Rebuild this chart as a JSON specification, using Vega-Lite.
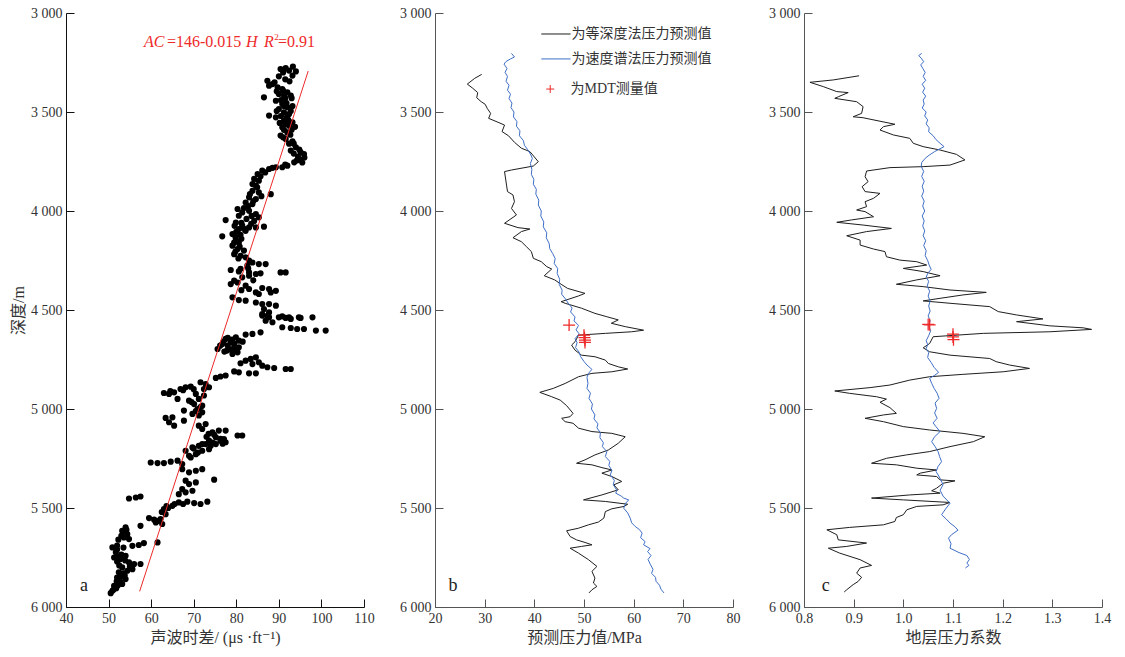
{
"$schema":"https://vega.github.io/schema/vega-lite/v6.json",
"background":"white",
"padding":{"left":10,"top":6,"right":5,"bottom":5},
"spacing":71,
"bounds":"flush",
"config":{"view":{"stroke":null},"axis":{"grid":false,"labelFont":"Liberation Serif, DejaVu Serif, serif, Noto Sans CJK SC","labelFontSize":14,"labelColor":"#333","titleFont":"Liberation Serif, DejaVu Serif, Noto Sans CJK SC","titleFontSize":16,"titleFontWeight":"normal","titleColor":"#333","tickSize":-8,"labelPadding":12,"labelFlush":false,"labelOverlap":false,"domainColor":"#222","tickColor":"#222"}},
"datasets":{
"ac":[{"v":90.4,"d":3283},{"v":91.6,"d":3278},{"v":93.3,"d":3271},{"v":94.0,"d":3295},{"v":93.2,"d":3316},{"v":92.4,"d":3291},{"v":87.3,"d":3342},{"v":88.5,"d":3359},{"v":89.7,"d":3375},{"v":87.7,"d":3367},{"v":90.8,"d":3384},{"v":92.0,"d":3401},{"v":91.2,"d":3417},{"v":92.8,"d":3417},{"v":90.0,"d":3409},{"v":86.5,"d":3426},{"v":89.3,"d":3443},{"v":90.8,"d":3460},{"v":92.0,"d":3476},{"v":90.0,"d":3485},{"v":91.2,"d":3502},{"v":92.4,"d":3510},{"v":87.7,"d":3518},{"v":89.3,"d":3527},{"v":91.2,"d":3544},{"v":93.2,"d":3552},{"v":92.4,"d":3569},{"v":90.8,"d":3577},{"v":92.0,"d":3603},{"v":90.4,"d":3619},{"v":91.6,"d":3636},{"v":93.2,"d":3648},{"v":94.0,"d":3678},{"v":92.8,"d":3695},{"v":95.1,"d":3703},{"v":95.9,"d":3712},{"v":95.1,"d":3742},{"v":93.6,"d":3754},{"v":92.0,"d":3771},{"v":90.8,"d":3779},{"v":89.3,"d":3779},{"v":87.7,"d":3788},{"v":86.1,"d":3796},{"v":85.0,"d":3813},{"v":84.2,"d":3838},{"v":85.3,"d":3847},{"v":83.8,"d":3864},{"v":84.6,"d":3872},{"v":91.0,"d":3300},{"v":89.0,"d":3350},{"v":91.5,"d":3430},{"v":93.5,"d":3660},{"v":94.5,"d":3725},{"v":93.0,"d":3590},
{"v":90.0,"d":3320},{"v":91.5,"d":3335},{"v":92.5,"d":3345},{"v":89.5,"d":3395},{"v":91.0,"d":3392},{"v":93.0,"d":3430},{"v":90.5,"d":3440},{"v":91.8,"d":3455},{"v":93.2,"d":3470},{"v":91.2,"d":3470},{"v":89.5,"d":3495},{"v":92.8,"d":3495},{"v":90.5,"d":3520},{"v":91.8,"d":3530},{"v":92.2,"d":3540},{"v":90.2,"d":3555},{"v":91.5,"d":3560},{"v":93.8,"d":3575},{"v":91.2,"d":3590},{"v":92.7,"d":3615},{"v":91.0,"d":3628},{"v":92.4,"d":3660},{"v":94.8,"d":3690},{"v":93.5,"d":3710},{"v":96.0,"d":3730},{"v":94.2,"d":3745},{"v":95.5,"d":3755},{"v":91.5,"d":3765},{"v":88.5,"d":3782},{"v":86.8,"d":3805},{"v":85.7,"d":3825},
{"v":83.8,"d":3898},{"v":85.3,"d":3906},{"v":83.0,"d":3931},{"v":84.6,"d":3940},{"v":83.8,"d":3965},{"v":82.2,"d":3957},{"v":88.1,"d":3915},{"v":80.3,"d":3990},{"v":81.4,"d":4007},{"v":83.0,"d":3999},{"v":84.6,"d":4016},{"v":85.3,"d":4032},{"v":80.6,"d":4024},{"v":77.5,"d":4046},{"v":79.9,"d":4058},{"v":81.4,"d":4074},{"v":83.0,"d":4083},{"v":84.6,"d":4083},{"v":86.5,"d":4079},{"v":82.2,"d":4100},{"v":80.6,"d":4091},{"v":76.7,"d":4128},{"v":79.1,"d":4116},{"v":79.9,"d":4142},{"v":80.6,"d":4159},{"v":79.1,"d":4175},{"v":80.3,"d":4192},{"v":79.5,"d":4218},{"v":81.0,"d":4226},{"v":82.2,"d":4234},{"v":83.0,"d":4251},{"v":83.8,"d":4260},{"v":85.3,"d":4268},{"v":86.9,"d":4268},{"v":82.6,"d":4276},{"v":78.7,"d":4298},{"v":80.6,"d":4305},{"v":83.0,"d":4310},{"v":84.6,"d":4318},{"v":85.7,"d":4315},{"v":81.4,"d":4335},{"v":83.0,"d":4327},{"v":79.5,"d":4352},{"v":90.4,"d":4310},{"v":91.6,"d":4310},{"v":78.7,"d":4369},{"v":80.3,"d":4361},{"v":82.2,"d":4377},{"v":83.0,"d":4394},{"v":84.6,"d":4411},{"v":86.1,"d":4389},{"v":87.7,"d":4394},{"v":89.3,"d":4403},{"v":88.1,"d":4411},{"v":85.3,"d":4419},{"v":79.1,"d":4436},{"v":80.6,"d":4450},{"v":82.2,"d":4453},{"v":84.6,"d":4462},{"v":86.1,"d":4470},{"v":87.7,"d":4470},{"v":89.3,"d":4478},{"v":86.5,"d":4495},{"v":87.7,"d":4512},{"v":86.1,"d":4520},{"v":87.3,"d":4529},{"v":90.8,"d":4532},{"v":92.4,"d":4537},{"v":94.7,"d":4537},{"v":97.9,"d":4537},
{"v":84.9,"d":3880},{"v":83.2,"d":3915},{"v":85.9,"d":3925},{"v":84.0,"d":3950},{"v":82.8,"d":3975},{"v":81.8,"d":3985},{"v":83.6,"d":4025},{"v":82.4,"d":4040},{"v":84.2,"d":4050},{"v":81.2,"d":4060},{"v":83.5,"d":4065},{"v":79.6,"d":4075},{"v":81.8,"d":4090},{"v":80.0,"d":4105},{"v":81.0,"d":4120},{"v":79.8,"d":4130},{"v":81.2,"d":4140},{"v":79.5,"d":4160},{"v":80.8,"d":4180},{"v":81.8,"d":4200},{"v":79.8,"d":4205},{"v":80.5,"d":4240},{"v":82.8,"d":4290},{"v":81.0,"d":4292},{"v":84.0,"d":4350},{"v":81.2,"d":4400},
{"v":86.1,"d":4528},{"v":87.7,"d":4537},{"v":86.9,"d":4554},{"v":88.5,"d":4562},{"v":90.0,"d":4537},{"v":91.6,"d":4540},{"v":92.8,"d":4545},{"v":95.1,"d":4540},{"v":90.8,"d":4587},{"v":92.8,"d":4591},{"v":94.3,"d":4596},{"v":95.9,"d":4596},{"v":98.7,"d":4604},{"v":101.0,"d":4604},{"v":82.2,"d":4624},{"v":83.8,"d":4621},{"v":85.7,"d":4613},{"v":76.7,"d":4672},{"v":77.5,"d":4646},{"v":78.7,"d":4663},{"v":79.9,"d":4638},{"v":80.6,"d":4655},{"v":79.5,"d":4688},{"v":78.3,"d":4697},{"v":80.6,"d":4688},{"v":75.6,"d":4697},{"v":79.1,"d":4722},{"v":80.3,"d":4714},{"v":77.0,"d":4660},{"v":78.0,"d":4680},{"v":79.0,"d":4650},{"v":80.0,"d":4700},{"v":77.8,"d":4705},{"v":76.2,"d":4680},{"v":78.0,"d":4640},{"v":79.5,"d":4670},{"v":81.5,"d":4660},{"v":77.2,"d":4710},{"v":79.0,"d":4705},{"v":81.0,"d":4769},{"v":82.2,"d":4756},{"v":83.4,"d":4747},{"v":84.6,"d":4739},{"v":85.3,"d":4764},{"v":83.8,"d":4773},{"v":86.1,"d":4781},{"v":87.3,"d":4789},{"v":88.9,"d":4793},{"v":91.6,"d":4798},{"v":92.8,"d":4798},{"v":79.5,"d":4810},{"v":80.6,"d":4815},{"v":83.0,"d":4820},{"v":84.6,"d":4820},{"v":75.2,"d":4843},{"v":76.3,"d":4836},{"v":77.5,"d":4831},{"v":71.6,"d":4865},{"v":72.8,"d":4874},{"v":73.6,"d":4890},{"v":72.4,"d":4899},{"v":63.0,"d":4919},{"v":64.2,"d":4924},{"v":65.4,"d":4916},{"v":66.9,"d":4899},{"v":68.1,"d":4890},{"v":69.3,"d":4887},{"v":70.5,"d":4924},{"v":66.2,"d":4949},{"v":68.9,"d":4958},{"v":70.1,"d":4975},{"v":71.2,"d":4949},{"v":72.4,"d":4932},{"v":72.0,"d":4983},{"v":70.9,"d":5000},{"v":72.0,"d":5017},{"v":71.2,"d":5033},{"v":69.7,"d":5025},{"v":67.7,"d":5008},{"v":63.4,"d":5045},{"v":65.0,"d":5042},{"v":64.2,"d":5067},{"v":65.4,"d":5084},{"v":67.7,"d":5059},{"v":71.2,"d":5084},{"v":72.8,"d":5076},{"v":72.0,"d":5101},{"v":74.4,"d":5118},{"v":75.9,"d":5109},{"v":77.5,"d":5109},{"v":75.2,"d":5143},{"v":76.3,"d":5151},{"v":73.6,"d":5160},{"v":72.0,"d":5177},{"v":75.2,"d":5177},{"v":77.5,"d":5168},{"v":80.3,"d":5134},{"v":81.4,"d":5134},
{"v":64.5,"d":4910},{"v":67.5,"d":4905},{"v":70.0,"d":4900},{"v":69.5,"d":4965},{"v":71.6,"d":4990},{"v":70.5,"d":5010},{"v":73.5,"d":5125},{"v":74.8,"d":5130},{"v":73.0,"d":5140},{"v":74.0,"d":5185},{"v":76.8,"d":5175},{"v":70.0,"d":5200},{"v":71.0,"d":5220},{"v":69.3,"d":5245},
{"v":68.1,"d":5211},{"v":69.7,"d":5194},{"v":71.2,"d":5186},{"v":72.8,"d":5177},{"v":74.4,"d":5169},{"v":76.3,"d":5160},{"v":77.1,"d":5152},{"v":68.9,"d":5236},{"v":70.5,"d":5228},{"v":72.0,"d":5211},{"v":73.6,"d":5203},{"v":59.9,"d":5270},{"v":61.5,"d":5273},{"v":63.0,"d":5273},{"v":64.6,"d":5266},{"v":66.2,"d":5261},{"v":67.3,"d":5278},{"v":67.3,"d":5304},{"v":68.9,"d":5320},{"v":70.5,"d":5312},{"v":72.0,"d":5304},{"v":74.8,"d":5357},{"v":68.1,"d":5362},{"v":68.9,"d":5379},{"v":70.5,"d":5371},{"v":67.3,"d":5405},{"v":68.1,"d":5421},{"v":66.5,"d":5430},{"v":69.7,"d":5413},{"v":54.8,"d":5452},{"v":56.4,"d":5447},{"v":57.5,"d":5442},{"v":65.0,"d":5489},{"v":66.5,"d":5472},{"v":68.5,"d":5468},{"v":70.1,"d":5475},{"v":71.6,"d":5480},{"v":73.2,"d":5468},{"v":63.0,"d":5506},{"v":63.4,"d":5531},{"v":62.2,"d":5556},{"v":61.1,"d":5573},{"v":62.6,"d":5581},{"v":59.5,"d":5551},{"v":60.7,"d":5559},{"v":57.5,"d":5590},{"v":54.0,"d":5598},{"v":53.2,"d":5615},{"v":54.4,"d":5632},{"v":53.6,"d":5649},{"v":54.8,"d":5657},{"v":55.6,"d":5691},{"v":57.1,"d":5687},{"v":58.3,"d":5677},{"v":61.5,"d":5674},{"v":50.9,"d":5699},{"v":51.7,"d":5724},{"v":51.3,"d":5750},{"v":52.8,"d":5758},{"v":54.0,"d":5741},{"v":54.8,"d":5775},{"v":56.0,"d":5783},{"v":57.5,"d":5783},{"v":53.2,"d":5800},{"v":52.4,"d":5825},{"v":54.4,"d":5817},{"v":55.6,"d":5809},{"v":52.0,"d":5851},{"v":54.0,"d":5859},{"v":52.8,"d":5876},{"v":51.3,"d":5893},{"v":53.2,"d":5884},{"v":50.9,"d":5918},{"v":50.5,"d":5930},{"v":52.0,"d":5710},{"v":53.0,"d":5735},{"v":52.5,"d":5790},{"v":53.8,"d":5840},{"v":51.8,"d":5905},{"v":53.5,"d":5620},{"v":52.0,"d":5690},
{"v":62.5,"d":5520},{"v":63.6,"d":5490},{"v":67.5,"d":5480},{"v":65.5,"d":5480},{"v":61.8,"d":5565},{"v":64.0,"d":5500},{"v":53.0,"d":5640},{"v":54.2,"d":5610},{"v":52.3,"d":5660},{"v":51.8,"d":5705},{"v":53.5,"d":5700},{"v":52.4,"d":5745},{"v":53.9,"d":5765},{"v":52.0,"d":5770},{"v":55.0,"d":5795},{"v":53.5,"d":5830},{"v":52.8,"d":5850},{"v":51.9,"d":5870},{"v":52.2,"d":5890},{"v":51.2,"d":5912}],
"pb":[{"m":"等深度法","v":29.4,"d":3310},{"m":"等深度法","v":28.0,"d":3330},{"m":"等深度法","v":26.5,"d":3359},{"m":"等深度法","v":27.6,"d":3380},{"m":"等深度法","v":28.6,"d":3402},{"m":"等深度法","v":28.4,"d":3428},{"m":"等深度法","v":29.3,"d":3448},{"m":"等深度法","v":30.1,"d":3461},{"m":"等深度法","v":30.5,"d":3481},{"m":"等深度法","v":31.2,"d":3507},{"m":"等深度法","v":30.8,"d":3532},{"m":"等深度法","v":32.7,"d":3552},{"m":"等深度法","v":34.0,"d":3566},{"m":"等深度法","v":33.5,"d":3599},{"m":"等深度法","v":34.8,"d":3620},{"m":"等深度法","v":36.0,"d":3653},{"m":"等深度法","v":37.4,"d":3683},{"m":"等深度法","v":39.1,"d":3700},{"m":"等深度法","v":40.8,"d":3751},{"m":"等深度法","v":39.8,"d":3773},{"m":"等深度法","v":35.4,"d":3793},{"m":"等深度法","v":34.0,"d":3801},{"m":"等深度法","v":34.4,"d":3869},{"m":"等深度法","v":34.6,"d":3902},{"m":"等深度法","v":35.7,"d":3919},{"m":"等深度法","v":36.0,"d":3953},{"m":"等深度法","v":35.4,"d":3987},{"m":"等深度法","v":36.4,"d":4020},{"m":"等深度法","v":34.0,"d":4062},{"m":"等深度法","v":36.7,"d":4084},{"m":"等深度法","v":39.1,"d":4091},{"m":"等深度法","v":37.4,"d":4104},{"m":"等深度法","v":35.7,"d":4135},{"m":"等深度法","v":37.4,"d":4155},{"m":"等深度法","v":38.4,"d":4180},{"m":"等深度法","v":39.4,"d":4205},{"m":"等深度法","v":39.8,"d":4239},{"m":"等深度法","v":41.4,"d":4256},{"m":"等深度法","v":42.5,"d":4281},{"m":"等深度法","v":43.5,"d":4293},{"m":"等深度法","v":42.0,"d":4327},{"m":"等深度法","v":44.1,"d":4348},{"m":"等深度法","v":45.4,"d":4370},{"m":"等深度法","v":46.7,"d":4391},{"m":"等深度法","v":50.2,"d":4416},{"m":"等深度法","v":48.9,"d":4429},{"m":"等深度法","v":45.4,"d":4458},{"m":"等深度法","v":46.2,"d":4466},{"m":"等深度法","v":49.5,"d":4491},{"m":"等深度法","v":52.2,"d":4517},{"m":"等深度法","v":54.6,"d":4534},{"m":"等深度法","v":56.9,"d":4550},{"m":"等深度法","v":55.5,"d":4567},{"m":"等深度法","v":58.3,"d":4584},{"m":"等深度法","v":62.0,"d":4602},{"m":"等深度法","v":59.6,"d":4610},{"m":"等深度法","v":54.3,"d":4618},{"m":"等深度法","v":48.9,"d":4627},{"m":"等深度法","v":48.2,"d":4660},{"m":"等深度法","v":47.5,"d":4677},{"m":"等深度法","v":48.2,"d":4703},{"m":"等深度法","v":49.5,"d":4728},{"m":"等深度法","v":52.2,"d":4736},{"m":"等深度法","v":54.3,"d":4753},{"m":"等深度法","v":54.9,"d":4770},{"m":"等深度法","v":56.9,"d":4787},{"m":"等深度法","v":58.8,"d":4798},{"m":"等深度法","v":55.6,"d":4812},{"m":"等深度法","v":51.6,"d":4820},{"m":"等深度法","v":48.9,"d":4837},{"m":"等深度法","v":46.2,"d":4871},{"m":"等深度法","v":43.8,"d":4896},{"m":"等深度法","v":41.1,"d":4916},{"m":"等深度法","v":43.5,"d":4938},{"m":"等深度法","v":45.2,"d":4955},{"m":"等深度法","v":46.5,"d":4983},{"m":"等深度法","v":47.8,"d":5022},{"m":"等深度法","v":47.2,"d":5039},{"m":"等深度法","v":45.5,"d":5047},{"m":"等深度法","v":46.2,"d":5064},{"m":"等深度法","v":47.8,"d":5072},{"m":"等深度法","v":48.9,"d":5097},{"m":"等深度法","v":51.6,"d":5114},{"m":"等深度法","v":55.6,"d":5123},{"m":"等深度法","v":58.3,"d":5140},{"m":"等深度法","v":56.9,"d":5173},{"m":"等深度法","v":54.9,"d":5207},{"m":"等深度法","v":52.2,"d":5232},{"m":"等深度法","v":50.2,"d":5257},{"m":"等深度法","v":48.5,"d":5274},{"m":"等深度法","v":51.6,"d":5282},{"m":"等深度法","v":53.6,"d":5296},{"m":"等深度法","v":55.6,"d":5308},{"m":"等深度法","v":53.6,"d":5324},{"m":"等深度法","v":55.6,"d":5341},{"m":"等深度法","v":57.6,"d":5366},{"m":"等深度法","v":56.0,"d":5383},{"m":"等深度法","v":56.9,"d":5408},{"m":"等深度法","v":53.6,"d":5434},{"m":"等深度法","v":49.9,"d":5459},{"m":"等深度法","v":54.3,"d":5467},{"m":"等深度法","v":58.8,"d":5481},{"m":"等深度法","v":58.1,"d":5492},{"m":"等深度法","v":55.6,"d":5504},{"m":"等深度法","v":54.3,"d":5518},{"m":"等深度法","v":54.0,"d":5551},{"m":"等深度法","v":52.9,"d":5571},{"m":"等深度法","v":50.9,"d":5585},{"m":"等深度法","v":48.9,"d":5602},{"m":"等深度法","v":46.5,"d":5615},{"m":"等深度法","v":47.2,"d":5644},{"m":"等深度法","v":48.5,"d":5661},{"m":"等深度法","v":50.2,"d":5674},{"m":"等深度法","v":51.6,"d":5686},{"m":"等深度法","v":49.5,"d":5694},{"m":"等深度法","v":47.2,"d":5703},{"m":"等深度法","v":48.9,"d":5728},{"m":"等深度法","v":50.9,"d":5761},{"m":"等深度法","v":52.6,"d":5795},{"m":"等深度法","v":51.6,"d":5820},{"m":"等深度法","v":52.2,"d":5854},{"m":"等深度法","v":51.9,"d":5879},{"m":"等深度法","v":52.6,"d":5896},{"m":"等深度法","v":51.6,"d":5913},{"m":"等深度法","v":51.0,"d":5929},
{"m":"速度谱法","v":35.4,"d":3204},{"m":"速度谱法","v":36.0,"d":3222},{"m":"速度谱法","v":35.2,"d":3232},{"m":"速度谱法","v":34.3,"d":3245},{"m":"速度谱法","v":33.9,"d":3258},{"m":"速度谱法","v":34.5,"d":3280},{"m":"速度谱法","v":34.1,"d":3300},{"m":"速度谱法","v":34.6,"d":3320},{"m":"速度谱法","v":34.3,"d":3345},{"m":"速度谱法","v":34.9,"d":3365},{"m":"速度谱法","v":34.6,"d":3390},{"m":"速度谱法","v":35.2,"d":3410},{"m":"速度谱法","v":34.9,"d":3432},{"m":"速度谱法","v":35.5,"d":3455},{"m":"速度谱法","v":35.3,"d":3478},{"m":"速度谱法","v":35.9,"d":3500},{"m":"速度谱法","v":35.8,"d":3525},{"m":"速度谱法","v":36.5,"d":3548},{"m":"速度谱法","v":36.4,"d":3572},{"m":"速度谱法","v":37.1,"d":3595},{"m":"速度谱法","v":37.0,"d":3620},{"m":"速度谱法","v":37.8,"d":3645},{"m":"速度谱法","v":38.0,"d":3668},{"m":"速度谱法","v":38.6,"d":3688},{"m":"速度谱法","v":39.2,"d":3712},{"m":"速度谱法","v":39.6,"d":3734},{"m":"速度谱法","v":39.2,"d":3760},{"m":"速度谱法","v":39.5,"d":3790},{"m":"速度谱法","v":39.4,"d":3815},{"m":"速度谱法","v":39.9,"d":3840},{"m":"速度谱法","v":39.8,"d":3865},{"m":"速度谱法","v":40.4,"d":3890},{"m":"速度谱法","v":40.3,"d":3915},{"m":"速度谱法","v":40.9,"d":3945},{"m":"速度谱法","v":40.8,"d":3970},{"m":"速度谱法","v":41.4,"d":4000},{"m":"速度谱法","v":41.3,"d":4025},{"m":"速度谱法","v":41.9,"d":4055},{"m":"速度谱法","v":41.8,"d":4080},{"m":"速度谱法","v":42.5,"d":4110},{"m":"速度谱法","v":42.4,"d":4135},{"m":"速度谱法","v":43.0,"d":4165},{"m":"速度谱法","v":43.1,"d":4190},{"m":"速度谱法","v":43.7,"d":4215},{"m":"速度谱法","v":44.2,"d":4240},{"m":"速度谱法","v":44.0,"d":4265},{"m":"速度谱法","v":44.7,"d":4290},{"m":"速度谱法","v":44.6,"d":4315},{"m":"速度谱法","v":45.1,"d":4345},{"m":"速度谱法","v":45.0,"d":4370},{"m":"速度谱法","v":45.6,"d":4400},{"m":"速度谱法","v":45.5,"d":4420},{"m":"速度谱法","v":46.3,"d":4445},{"m":"速度谱法","v":46.8,"d":4465},{"m":"速度谱法","v":47.6,"d":4490},{"m":"速度谱法","v":47.3,"d":4510},{"m":"速度谱法","v":48.2,"d":4535},{"m":"速度谱法","v":48.0,"d":4555},{"m":"速度谱法","v":48.9,"d":4578},{"m":"速度谱法","v":48.4,"d":4600},{"m":"速度谱法","v":49.0,"d":4620},{"m":"速度谱法","v":48.2,"d":4645},{"m":"速度谱法","v":48.6,"d":4665},{"m":"速度谱法","v":48.3,"d":4690},{"m":"速度谱法","v":49.0,"d":4712},{"m":"速度谱法","v":49.3,"d":4735},{"m":"速度谱法","v":50.0,"d":4760},{"m":"速度谱法","v":50.6,"d":4778},{"m":"速度谱法","v":51.6,"d":4800},{"m":"速度谱法","v":50.9,"d":4820},{"m":"速度谱法","v":50.6,"d":4840},{"m":"速度谱法","v":50.8,"d":4870},{"m":"速度谱法","v":50.6,"d":4896},{"m":"速度谱法","v":51.3,"d":4920},{"m":"速度谱法","v":51.0,"d":4946},{"m":"速度谱法","v":51.7,"d":4975},{"m":"速度谱法","v":51.5,"d":5000},{"m":"速度谱法","v":52.2,"d":5030},{"m":"速度谱法","v":52.0,"d":5050},{"m":"速度谱法","v":52.8,"d":5075},{"m":"速度谱法","v":52.6,"d":5095},{"m":"速度谱法","v":53.3,"d":5120},{"m":"速度谱法","v":53.2,"d":5145},{"m":"速度谱法","v":53.9,"d":5170},{"m":"速度谱法","v":53.7,"d":5190},{"m":"速度谱法","v":54.6,"d":5215},{"m":"速度谱法","v":54.3,"d":5240},{"m":"速度谱法","v":55.2,"d":5265},{"m":"速度谱法","v":55.0,"d":5285},{"m":"速度谱法","v":55.6,"d":5310},{"m":"速度谱法","v":55.3,"d":5333},{"m":"速度谱法","v":56.1,"d":5360},{"m":"速度谱法","v":55.9,"d":5383},{"m":"速度谱法","v":56.6,"d":5410},{"m":"速度谱法","v":56.4,"d":5425},{"m":"速度谱法","v":57.5,"d":5440},{"m":"速度谱法","v":58.0,"d":5450},{"m":"速度谱法","v":59.0,"d":5459},{"m":"速度谱法","v":58.4,"d":5475},{"m":"速度谱法","v":58.0,"d":5501},{"m":"速度谱法","v":58.8,"d":5525},{"m":"速度谱法","v":59.3,"d":5551},{"m":"速度谱法","v":59.6,"d":5575},{"m":"速度谱法","v":60.3,"d":5593},{"m":"速度谱法","v":61.2,"d":5610},{"m":"速度谱法","v":61.7,"d":5627},{"m":"速度谱法","v":61.4,"d":5650},{"m":"速度谱法","v":62.3,"d":5670},{"m":"速度谱法","v":62.0,"d":5686},{"m":"速度谱法","v":63.3,"d":5705},{"m":"速度谱法","v":62.8,"d":5720},{"m":"速度谱法","v":63.5,"d":5740},{"m":"速度谱法","v":62.9,"d":5760},{"m":"速度谱法","v":63.4,"d":5787},{"m":"速度谱法","v":63.9,"d":5810},{"m":"速度谱法","v":63.6,"d":5830},{"m":"速度谱法","v":64.4,"d":5850},{"m":"速度谱法","v":64.5,"d":5870},{"m":"速度谱法","v":65.2,"d":5890},{"m":"速度谱法","v":65.5,"d":5910},{"m":"速度谱法","v":66.1,"d":5929}],
"pc":[{"m":"等深度法","v":0.911,"d":3317},{"m":"等深度法","v":0.859,"d":3338},{"m":"等深度法","v":0.812,"d":3350},{"m":"等深度法","v":0.839,"d":3372},{"m":"等深度法","v":0.866,"d":3397},{"m":"等深度法","v":0.889,"d":3402},{"m":"等深度法","v":0.869,"d":3423},{"m":"等深度法","v":0.862,"d":3431},{"m":"等深度法","v":0.906,"d":3448},{"m":"等深度法","v":0.919,"d":3473},{"m":"等深度法","v":0.916,"d":3507},{"m":"等深度法","v":0.899,"d":3524},{"m":"等深度法","v":0.919,"d":3529},{"m":"等深度法","v":0.983,"d":3562},{"m":"等深度法","v":0.960,"d":3574},{"m":"等深度法","v":0.953,"d":3591},{"m":"等深度法","v":0.980,"d":3616},{"m":"等深度法","v":1.013,"d":3633},{"m":"等深度法","v":1.020,"d":3658},{"m":"等深度法","v":1.040,"d":3675},{"m":"等深度法","v":1.074,"d":3692},{"m":"等深度法","v":1.107,"d":3714},{"m":"等深度法","v":1.124,"d":3742},{"m":"等深度法","v":1.094,"d":3768},{"m":"等深度法","v":1.040,"d":3776},{"m":"等深度法","v":0.973,"d":3781},{"m":"等深度法","v":0.926,"d":3798},{"m":"等深度法","v":0.923,"d":3827},{"m":"等深度法","v":0.929,"d":3852},{"m":"等深度法","v":0.917,"d":3877},{"m":"等深度法","v":0.923,"d":3902},{"m":"等深度法","v":0.953,"d":3911},{"m":"等深度法","v":0.940,"d":3936},{"m":"等深度法","v":0.923,"d":3953},{"m":"等深度法","v":0.926,"d":3978},{"m":"等深度法","v":0.906,"d":3995},{"m":"等深度法","v":0.923,"d":4003},{"m":"等深度法","v":0.940,"d":4029},{"m":"等深度法","v":0.896,"d":4045},{"m":"等深度法","v":0.866,"d":4057},{"m":"等深度法","v":0.919,"d":4071},{"m":"等深度法","v":0.976,"d":4088},{"m":"等深度法","v":0.926,"d":4104},{"m":"等深度法","v":0.886,"d":4125},{"m":"等深度法","v":0.913,"d":4147},{"m":"等深度法","v":0.913,"d":4172},{"m":"等深度法","v":0.940,"d":4192},{"m":"等深度法","v":0.963,"d":4205},{"m":"等深度法","v":0.966,"d":4231},{"m":"等深度法","v":0.993,"d":4248},{"m":"等深度法","v":1.027,"d":4256},{"m":"等深度法","v":1.047,"d":4273},{"m":"等深度法","v":1.000,"d":4290},{"m":"等深度法","v":1.040,"d":4306},{"m":"等深度法","v":1.074,"d":4327},{"m":"等深度法","v":1.027,"d":4348},{"m":"等深度法","v":0.986,"d":4370},{"m":"等深度法","v":1.040,"d":4382},{"m":"等深度法","v":1.094,"d":4399},{"m":"等深度法","v":1.167,"d":4411},{"m":"等深度法","v":1.120,"d":4424},{"m":"等深度法","v":1.074,"d":4441},{"m":"等深度法","v":1.040,"d":4454},{"m":"等深度法","v":1.094,"d":4466},{"m":"等深度法","v":1.174,"d":4483},{"m":"等深度法","v":1.191,"d":4508},{"m":"等深度法","v":1.228,"d":4525},{"m":"等深度法","v":1.281,"d":4545},{"m":"等深度法","v":1.228,"d":4559},{"m":"等深度法","v":1.295,"d":4580},{"m":"等深度法","v":1.362,"d":4590},{"m":"等深度法","v":1.379,"d":4598},{"m":"等深度法","v":1.295,"d":4610},{"m":"等深度法","v":1.161,"d":4618},{"m":"等深度法","v":1.060,"d":4635},{"m":"等深度法","v":1.053,"d":4669},{"m":"等深度法","v":1.040,"d":4691},{"m":"等深度法","v":1.053,"d":4711},{"m":"等深度法","v":1.094,"d":4728},{"m":"等深度法","v":1.174,"d":4745},{"m":"等深度法","v":1.187,"d":4761},{"m":"等深度法","v":1.214,"d":4778},{"m":"等深度法","v":1.254,"d":4795},{"m":"等深度法","v":1.201,"d":4812},{"m":"等深度法","v":1.120,"d":4825},{"m":"等深度法","v":1.053,"d":4837},{"m":"等深度法","v":1.013,"d":4854},{"m":"等深度法","v":0.973,"d":4879},{"m":"等深度法","v":0.933,"d":4892},{"m":"等深度法","v":0.862,"d":4909},{"m":"等深度法","v":0.892,"d":4921},{"m":"等深度法","v":0.946,"d":4938},{"m":"等深度法","v":0.966,"d":4950},{"m":"等深度法","v":0.953,"d":4966},{"m":"等深度法","v":0.973,"d":4993},{"m":"等深度法","v":0.986,"d":5022},{"m":"等深度法","v":0.960,"d":5030},{"m":"等深度法","v":0.923,"d":5047},{"m":"等深度法","v":0.960,"d":5064},{"m":"等深度法","v":1.000,"d":5089},{"m":"等深度法","v":1.053,"d":5106},{"m":"等深度法","v":1.120,"d":5123},{"m":"等深度法","v":1.164,"d":5140},{"m":"等深度法","v":1.141,"d":5165},{"m":"等深度法","v":1.094,"d":5190},{"m":"等深度法","v":1.053,"d":5215},{"m":"等深度法","v":1.006,"d":5232},{"m":"等深度法","v":0.966,"d":5249},{"m":"等深度法","v":0.936,"d":5274},{"m":"等深度法","v":0.986,"d":5282},{"m":"等深度法","v":1.027,"d":5299},{"m":"等深度法","v":1.067,"d":5308},{"m":"等深度法","v":1.034,"d":5324},{"m":"等深度法","v":1.027,"d":5333},{"m":"等深度法","v":1.067,"d":5341},{"m":"等深度法","v":1.074,"d":5358},{"m":"等深度法","v":1.104,"d":5363},{"m":"等深度法","v":1.080,"d":5375},{"m":"等深度法","v":1.067,"d":5400},{"m":"等深度法","v":1.057,"d":5413},{"m":"等深度法","v":1.074,"d":5425},{"m":"等深度法","v":1.013,"d":5434},{"m":"等深度法","v":0.936,"d":5450},{"m":"等深度法","v":1.000,"d":5459},{"m":"等深度法","v":1.094,"d":5472},{"m":"等深度法","v":1.080,"d":5484},{"m":"等深度法","v":1.027,"d":5492},{"m":"等深度法","v":1.007,"d":5509},{"m":"等深度法","v":1.000,"d":5534},{"m":"等深度法","v":0.986,"d":5548},{"m":"等深度法","v":0.983,"d":5568},{"m":"等深度法","v":0.960,"d":5585},{"m":"等深度法","v":0.892,"d":5598},{"m":"等深度法","v":0.846,"d":5610},{"m":"等深度法","v":0.866,"d":5635},{"m":"等深度法","v":0.869,"d":5661},{"m":"等深度法","v":0.926,"d":5677},{"m":"等深度法","v":0.886,"d":5694},{"m":"等深度法","v":0.849,"d":5703},{"m":"等深度法","v":0.872,"d":5728},{"m":"等深度法","v":0.913,"d":5761},{"m":"等深度法","v":0.936,"d":5790},{"m":"等深度法","v":0.913,"d":5803},{"m":"等深度法","v":0.906,"d":5829},{"m":"等深度法","v":0.916,"d":5850},{"m":"等深度法","v":0.909,"d":5871},{"m":"等深度法","v":0.899,"d":5887},{"m":"等深度法","v":0.886,"d":5913},{"m":"等深度法","v":0.881,"d":5924},
{"m":"速度谱法","v":1.037,"d":3204},{"m":"速度谱法","v":1.031,"d":3215},{"m":"速度谱法","v":1.036,"d":3228},{"m":"速度谱法","v":1.041,"d":3246},{"m":"速度谱法","v":1.035,"d":3262},{"m":"速度谱法","v":1.039,"d":3279},{"m":"速度谱法","v":1.044,"d":3300},{"m":"速度谱法","v":1.040,"d":3320},{"m":"速度谱法","v":1.045,"d":3340},{"m":"速度谱法","v":1.038,"d":3360},{"m":"速度谱法","v":1.043,"d":3380},{"m":"速度谱法","v":1.039,"d":3400},{"m":"速度谱法","v":1.045,"d":3420},{"m":"速度谱法","v":1.040,"d":3440},{"m":"速度谱法","v":1.042,"d":3460},{"m":"速度谱法","v":1.038,"d":3480},{"m":"速度谱法","v":1.046,"d":3500},{"m":"速度谱法","v":1.043,"d":3520},{"m":"速度谱法","v":1.049,"d":3540},{"m":"速度谱法","v":1.046,"d":3560},{"m":"速度谱法","v":1.052,"d":3580},{"m":"速度谱法","v":1.051,"d":3600},{"m":"速度谱法","v":1.060,"d":3620},{"m":"速度谱法","v":1.066,"d":3640},{"m":"速度谱法","v":1.074,"d":3658},{"m":"速度谱法","v":1.082,"d":3675},{"m":"速度谱法","v":1.072,"d":3688},{"m":"速度谱法","v":1.063,"d":3700},{"m":"速度谱法","v":1.052,"d":3718},{"m":"速度谱法","v":1.044,"d":3734},{"m":"速度谱法","v":1.037,"d":3755},{"m":"速度谱法","v":1.036,"d":3775},{"m":"速度谱法","v":1.041,"d":3800},{"m":"速度谱法","v":1.037,"d":3825},{"m":"速度谱法","v":1.042,"d":3850},{"m":"速度谱法","v":1.038,"d":3875},{"m":"速度谱法","v":1.041,"d":3900},{"m":"速度谱法","v":1.037,"d":3925},{"m":"速度谱法","v":1.042,"d":3950},{"m":"速度谱法","v":1.039,"d":3975},{"m":"速度谱法","v":1.043,"d":4000},{"m":"速度谱法","v":1.038,"d":4025},{"m":"速度谱法","v":1.042,"d":4050},{"m":"速度谱法","v":1.039,"d":4075},{"m":"速度谱法","v":1.043,"d":4100},{"m":"速度谱法","v":1.040,"d":4125},{"m":"速度谱法","v":1.045,"d":4150},{"m":"速度谱法","v":1.041,"d":4175},{"m":"速度谱法","v":1.046,"d":4200},{"m":"速度谱法","v":1.044,"d":4225},{"m":"速度谱法","v":1.049,"d":4250},{"m":"速度谱法","v":1.052,"d":4273},{"m":"速度谱法","v":1.056,"d":4295},{"m":"速度谱法","v":1.049,"d":4315},{"m":"速度谱法","v":1.046,"d":4335},{"m":"速度谱法","v":1.051,"d":4355},{"m":"速度谱法","v":1.048,"d":4380},{"m":"速度谱法","v":1.053,"d":4405},{"m":"速度谱法","v":1.050,"d":4430},{"m":"速度谱法","v":1.054,"d":4455},{"m":"速度谱法","v":1.051,"d":4480},{"m":"速度谱法","v":1.054,"d":4505},{"m":"速度谱法","v":1.050,"d":4530},{"m":"速度谱法","v":1.054,"d":4555},{"m":"速度谱法","v":1.051,"d":4580},{"m":"速度谱法","v":1.055,"d":4605},{"m":"速度谱法","v":1.051,"d":4630},{"m":"速度谱法","v":1.046,"d":4655},{"m":"速度谱法","v":1.049,"d":4675},{"m":"速度谱法","v":1.046,"d":4695},{"m":"速度谱法","v":1.051,"d":4715},{"m":"速度谱法","v":1.049,"d":4740},{"m":"速度谱法","v":1.056,"d":4765},{"m":"速度谱法","v":1.062,"d":4790},{"m":"速度谱法","v":1.071,"d":4815},{"m":"速度谱法","v":1.063,"d":4830},{"m":"速度谱法","v":1.053,"d":4845},{"m":"速度谱法","v":1.057,"d":4870},{"m":"速度谱法","v":1.062,"d":4896},{"m":"速度谱法","v":1.068,"d":4920},{"m":"速度谱法","v":1.072,"d":4946},{"m":"速度谱法","v":1.064,"d":4970},{"m":"速度谱法","v":1.067,"d":4997},{"m":"速度谱法","v":1.063,"d":5020},{"m":"速度谱法","v":1.068,"d":5047},{"m":"速度谱法","v":1.060,"d":5070},{"m":"速度谱法","v":1.066,"d":5090},{"m":"速度谱法","v":1.074,"d":5114},{"m":"速度谱法","v":1.063,"d":5140},{"m":"速度谱法","v":1.057,"d":5165},{"m":"速度谱法","v":1.064,"d":5190},{"m":"速度谱法","v":1.070,"d":5215},{"m":"速度谱法","v":1.073,"d":5240},{"m":"速度谱法","v":1.077,"d":5266},{"m":"速度谱法","v":1.070,"d":5290},{"m":"速度谱法","v":1.066,"d":5316},{"m":"速度谱法","v":1.074,"d":5350},{"m":"速度谱法","v":1.080,"d":5383},{"m":"速度谱法","v":1.074,"d":5410},{"m":"速度谱法","v":1.080,"d":5440},{"m":"速度谱法","v":1.094,"d":5476},{"m":"速度谱法","v":1.085,"d":5505},{"m":"速度谱法","v":1.077,"d":5534},{"m":"速度谱法","v":1.086,"d":5555},{"m":"速度谱法","v":1.094,"d":5576},{"m":"速度谱法","v":1.104,"d":5595},{"m":"速度谱法","v":1.110,"d":5612},{"m":"速度谱法","v":1.097,"d":5635},{"m":"速度谱法","v":1.091,"d":5652},{"m":"速度谱法","v":1.096,"d":5680},{"m":"速度谱法","v":1.094,"d":5703},{"m":"速度谱法","v":1.112,"d":5725},{"m":"速度谱法","v":1.128,"d":5740},{"m":"速度谱法","v":1.133,"d":5760},{"m":"速度谱法","v":1.128,"d":5778},{"m":"速度谱法","v":1.132,"d":5790},{"m":"速度谱法","v":1.125,"d":5803}]
},
"hconcat":[
{"width":298,"height":594,
 "encoding":{
  "x":{"field":"v","type":"quantitative","scale":{"domain":[40,110],"nice":false,"zero":false},"axis":{"values":[40,50,60,70,80,90,100,110],"title":"声波时差/ (μs ·ft⁻¹)","domainColor":"#111","tickColor":"#111"}},
  "y":{"field":"d","type":"quantitative","scale":{"domain":[3000,6000],"reverse":true,"nice":false,"zero":false},"axis":{"values":[3000,3500,4000,4500,5000,5500,6000],"labelExpr":"replace(format(datum.value, ','), ',', ' ')","title":"深度/m","domainColor":"#111","tickColor":"#111"}}
 },
 "layer":[
  {"data":{"name":"ac"},"mark":{"type":"circle","size":38,"color":"#000","opacity":1}},
  {"data":{"values":[{"v":96.9,"d":3293},{"v":57.3,"d":5921}]},"mark":{"type":"line","color":"#ee2a2a","strokeWidth":1},"encoding":{"order":{"field":"d","type":"quantitative"}}},
  {"data":{"values":[{"v":58.3,"d":3146,"t":"AC"},{"v":82.3,"d":3146,"t":"H"},{"v":86.5,"d":3146,"t":"R"}]},"mark":{"type":"text","align":"left","baseline":"middle","font":"Liberation Serif, DejaVu Serif, serif","fontSize":16,"fontStyle":"italic","color":"#ee2a2a"},"encoding":{"text":{"field":"t"}}},
  {"data":{"values":[{"v":63.7,"d":3146,"t":"=146-0.015"},{"v":89.8,"d":3146,"t":"=0.91"}]},"mark":{"type":"text","align":"left","baseline":"middle","font":"Liberation Serif, DejaVu Serif, serif","fontSize":16,"color":"#ee2a2a"},"encoding":{"text":{"field":"t"}}},
  {"data":{"values":[{"v":88.9,"d":3122,"t":"2"}]},"mark":{"type":"text","align":"left","baseline":"middle","font":"Liberation Serif, DejaVu Serif, serif","fontSize":9,"color":"#ee2a2a"},"encoding":{"text":{"field":"t"}}},
  {"data":{"values":[{"v":44.2,"d":5894,"t":"a"}]},"mark":{"type":"text","align":"center","baseline":"middle","font":"Liberation Serif, DejaVu Serif, serif","fontSize":18,"color":"#222"},"encoding":{"text":{"field":"t"}}}
 ]},
{"width":298,"height":594,
 "encoding":{
  "x":{"field":"v","type":"quantitative","scale":{"domain":[20,80],"nice":false,"zero":false},"axis":{"values":[20,30,40,50,60,70,80],"title":"预测压力值/MPa","domainColor":"#555","tickColor":"#555"}},
  "y":{"field":"d","type":"quantitative","scale":{"domain":[3000,6000],"reverse":true,"nice":false,"zero":false},"axis":{"values":[3000,3500,4000,4500,5000,5500,6000],"labelExpr":"replace(format(datum.value, ','), ',', ' ')","title":null,"domainColor":"#555","tickColor":"#555"}}
 },
 "layer":[
  {"data":{"name":"pb"},"mark":{"type":"line","strokeWidth":1},"encoding":{"color":{"field":"m","type":"nominal","scale":{"domain":["等深度法","速度谱法"],"range":["#1e1e1e","#3f6fc6"]},"legend":null},"order":{"field":"d","type":"quantitative"}}},
  {"data":{"values":[{"v":47.0,"d":4576},{"v":50.0,"d":4627},{"v":50.1,"d":4640},{"v":50.2,"d":4652},{"v":50.2,"d":4664}]},"mark":{"type":"point","shape":"M-1,0H1M0,-1V1","size":144,"filled":false,"color":"#ee2a2a","strokeWidth":1.3,"opacity":1}},
  {"data":{"values":[{"m":"等深度法","v":41.4,"v2":47.3,"d":3106},{"m":"速度谱法","v":41.4,"v2":47.3,"d":3232}]},"mark":{"type":"rule","strokeWidth":1},"encoding":{"x2":{"field":"v2"},"color":{"field":"m","type":"nominal","scale":{"domain":["等深度法","速度谱法"],"range":["#1e1e1e","#3f6fc6"]},"legend":null}}},
  {"data":{"values":[{"v":43.2,"d":3384}]},"mark":{"type":"point","shape":"M-1,0H1M0,-1V1","size":64,"filled":false,"color":"#ee2a2a","strokeWidth":1,"opacity":1}},
  {"data":{"values":[{"v":47.5,"d":3106,"t":"为等深度法压力预测值"},{"v":47.5,"d":3232,"t":"为速度谱法压力预测值"},{"v":47.3,"d":3384,"t":"为MDT测量值"}]},"mark":{"type":"text","align":"left","baseline":"middle","font":"Liberation Serif, DejaVu Serif, Noto Sans CJK SC","fontSize":14,"color":"#333"},"encoding":{"text":{"field":"t"}}},
  {"data":{"values":[{"v":23.6,"d":5894,"t":"b"}]},"mark":{"type":"text","align":"center","baseline":"middle","font":"Liberation Serif, DejaVu Serif, serif","fontSize":18,"color":"#222"},"encoding":{"text":{"field":"t"}}}
 ]},
{"width":298,"height":594,
 "encoding":{
  "x":{"field":"v","type":"quantitative","scale":{"domain":[0.8,1.4],"nice":false,"zero":false},"axis":{"values":[0.8,0.9,1.0,1.1,1.2,1.3,1.4],"format":".1f","title":"地层压力系数","domainColor":"#555","tickColor":"#555"}},
  "y":{"field":"d","type":"quantitative","scale":{"domain":[3000,6000],"reverse":true,"nice":false,"zero":false},"axis":{"values":[3000,3500,4000,4500,5000,5500,6000],"labelExpr":"replace(format(datum.value, ','), ',', ' ')","title":null,"domainColor":"#555","tickColor":"#555"}}
 },
 "layer":[
  {"data":{"name":"pc"},"mark":{"type":"line","strokeWidth":1},"encoding":{"color":{"field":"m","type":"nominal","scale":{"domain":["等深度法","速度谱法"],"range":["#1e1e1e","#3f6fc6"]},"legend":null},"order":{"field":"d","type":"quantitative"}}},
  {"data":{"values":[{"v":1.050,"d":4573},{"v":1.053,"d":4575},{"v":1.100,"d":4622},{"v":1.100,"d":4636},{"v":1.101,"d":4650}]},"mark":{"type":"point","shape":"M-1,0H1M0,-1V1","size":144,"filled":false,"color":"#ee2a2a","strokeWidth":1.3,"opacity":1}},
  {"data":{"values":[{"v":0.844,"d":5894,"t":"c"}]},"mark":{"type":"text","align":"center","baseline":"middle","font":"Liberation Serif, DejaVu Serif, serif","fontSize":18,"color":"#222"},"encoding":{"text":{"field":"t"}}}
 ]}
]
}
